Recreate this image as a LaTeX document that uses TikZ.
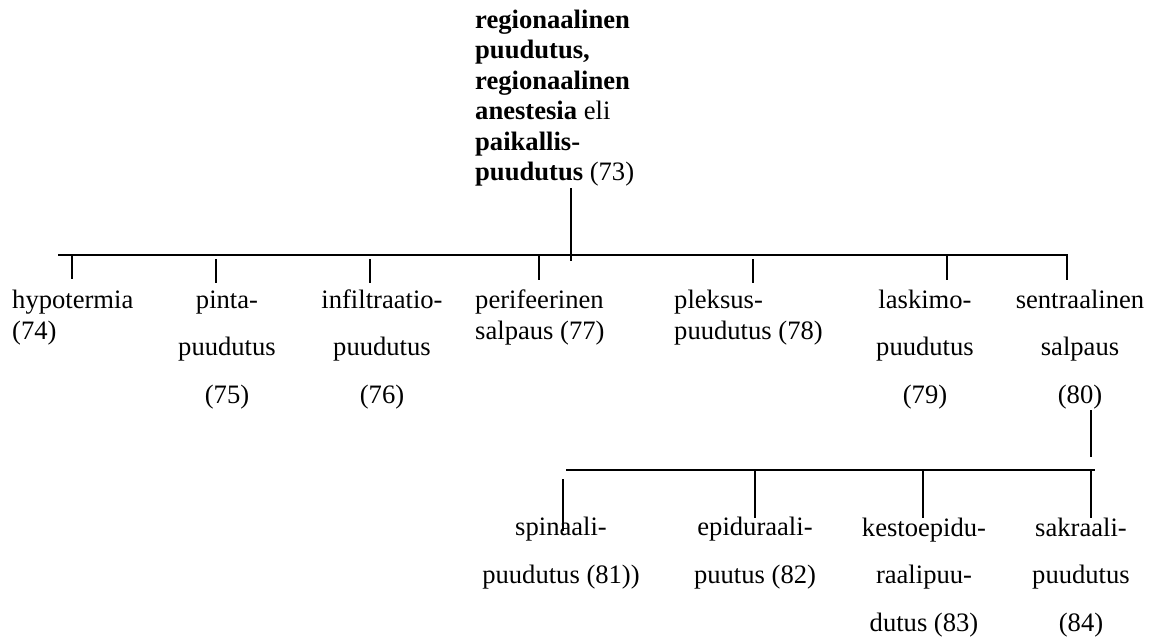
\documentclass[tikz,border=0pt]{standalone}
\usepackage{fontspec}
\setmainfont{Liberation Serif}
\begin{document}
\begin{tikzpicture}[x=1pt,y=-1pt,
  lbl/.style={inner sep=0pt, font=\fontsize{26.6}{30.4}\selectfont},
  lblw/.style={inner sep=0pt, align=center, anchor=base, font=\fontsize{26.6}{47.5}\selectfont},
  ln/.style={line width=1.8pt}]
\useasboundingbox (0,0) rectangle (1153,637);
% root (anchor = baseline of last line)
\node[lbl, align=left, anchor=base west] (root) at (475,180.5)
  {\textbf{regionaalinen}\\ \textbf{puudutus,}\\ \textbf{regionaalinen}\\ \textbf{anestesia} eli\\ \textbf{paikallis-}\\ \textbf{puudutus} (73)};
% first level
\node[lbl, align=left, anchor=base west] (hypo) at (12,339) {hypotermia\\(74)};
\node[lblw] (pinta) at (227,403) {pinta-\\puudutus\\(75)};
\node[lblw] (infil) at (382,403) {infiltraatio-\\puudutus\\(76)};
\node[lbl, align=left, anchor=base west] (perif) at (475,339) {perifeerinen\\salpaus (77)};
\node[lbl, align=left, anchor=base west] (pleks) at (674,339) {pleksus-\\puudutus (78)};
\node[lblw] (lask) at (925,403) {laskimo-\\puudutus\\(79)};
\node[lblw] (sentr) at (1080,403) {sentraalinen\\salpaus\\(80)};
% second level
\node[lblw] (spin) at (561,583) {spinaali-\\puudutus (81))};
\node[lblw] (epid) at (755,583) {epiduraali-\\puutus (82)};
\node[lblw] (kesto) at (924,631) {kestoepidu-\\raalipuu-\\dutus (83)};
\node[lblw] (sakr) at (1081,631) {sakraali-\\puudutus\\(84)};
% bus coordinates
\coordinate (busL) at (58,255);
\coordinate (busR) at (1067,255);
\coordinate (rootA) at (571,188);
\coordinate (rootB) at (571,261);
\coordinate (hypoA) at (72,255);  \coordinate (hypoB) at (72,279);
\coordinate (pintaA) at (216,259); \coordinate (pintaB) at (216,283);
\coordinate (infilA) at (370,259); \coordinate (infilB) at (370,283);
\coordinate (perifA) at (539,255); \coordinate (perifB) at (539,280);
\coordinate (pleksA) at (753,259); \coordinate (pleksB) at (753,283);
\coordinate (laskA) at (947,255); \coordinate (laskB) at (947,280);
\coordinate (sentrB) at (1067,280);
\coordinate (sentrC) at (1091,410);
\coordinate (sentrD) at (1091,457);
\coordinate (bus2L) at (566,470);
\coordinate (bus2R) at (1095,470);
\coordinate (spinA) at (563,479); \coordinate (spinB) at (563,531);
\coordinate (epidA) at (755,470); \coordinate (epidB) at (755,518);
\coordinate (kestoA) at (923,470); \coordinate (kestoB) at (923,518);
\coordinate (sakrA) at (1091,470); \coordinate (sakrB) at (1091,518);
% connectors
\draw[ln] (busL) -- (busR) -- (sentrB);
\draw[ln] (rootA) -- (rootB);
\draw[ln] (hypoA) -- (hypoB);
\draw[ln] (pintaA) -- (pintaB);
\draw[ln] (infilA) -- (infilB);
\draw[ln] (perifA) -- (perifB);
\draw[ln] (pleksA) -- (pleksB);
\draw[ln] (laskA) -- (laskB);
\draw[ln] (sentrC) -- (sentrD);
\draw[ln] (bus2L) -- (bus2R);
\draw[ln] (spinA) -- (spinB);
\draw[ln] (epidA) -- (epidB);
\draw[ln] (kestoA) -- (kestoB);
\draw[ln] (sakrA) -- (sakrB);
\end{tikzpicture}
\end{document}
